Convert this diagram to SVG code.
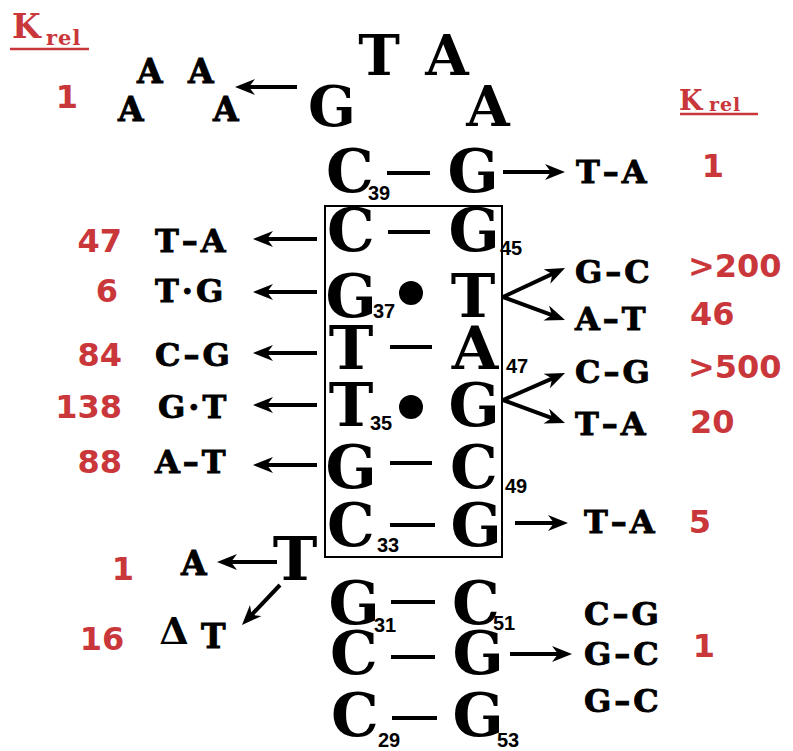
<svg xmlns="http://www.w3.org/2000/svg" width="793" height="751" viewBox="0 0 793 751">
  <style>
    .big { font-family: "DejaVu Serif", "Liberation Serif", serif; font-weight: bold; font-size: 60px; fill: #000; text-anchor: middle; }
    .loop { font-family: "DejaVu Serif", "Liberation Serif", serif; font-weight: bold; font-size: 56px; fill: #000; text-anchor: middle; }
    .sub { font-family: "Liberation Sans", Arial, sans-serif; font-weight: bold; font-size: 20px; fill: #000; }
    .pair { font-family: "DejaVu Serif", "Liberation Serif", serif; font-weight: bold; font-size: 32px; fill: #000; stroke: #000; stroke-width: 0.9px; letter-spacing: 3px; }
    .base { font-family: "DejaVu Serif", "Liberation Serif", serif; font-weight: bold; font-size: 33px; fill: #000; stroke: #000; stroke-width: 0.9px; }
    .kbig { font-family: "DejaVu Serif", serif; font-weight: bold; fill: #c9373b; }
    .ksub { font-family: "DejaVu Serif", serif; font-weight: bold; fill: #c9373b; letter-spacing: 1px; }
    .num { font-family: "DejaVu Sans", "Liberation Sans", sans-serif; font-weight: bold; font-size: 32px; fill: #c9373b; }
    .dash { stroke: #000; stroke-width: 4; }
    .arrow { stroke: #000; stroke-width: 4; fill: none; marker-end: url(#head); }
  </style>
  <defs>
    <marker id="head" markerUnits="userSpaceOnUse" viewBox="0 0 20 16" markerWidth="20" markerHeight="16" refX="12" refY="8" orient="auto">
      <path d="M0,0 L20,8 L0,16 L6,8 Z" fill="#000"/>
    </marker>
  </defs>
  <rect width="793" height="751" fill="#fff"/>

  <!-- K_rel headings -->
  <g id="krel-left">
    <text class="kbig" x="12" y="38" font-size="33">K</text>
    <text class="ksub" x="46" y="45" font-size="21">rel</text>
    <line x1="10" y1="49" x2="89" y2="49" stroke="#c9373b" stroke-width="2.5"/>
  </g>
  <g id="krel-right">
    <text class="kbig" x="679" y="110" font-size="27">K</text>
    <text class="ksub" x="709" y="111" font-size="19">rel</text>
    <line x1="680" y1="114" x2="758" y2="114" stroke="#c9373b" stroke-width="2.5"/>
  </g>

  <!-- hairpin loop G T A A -->
  <g id="loop">
    <text class="loop" x="332" y="126">G</text>
    <text class="loop" x="379" y="75">T</text>
    <text class="loop" x="447" y="75">A</text>
    <text class="loop" x="488" y="126">A</text>
  </g>
  <g id="loop-variant">
    <text class="base" x="118" y="121">A</text>
    <text class="base" x="137" y="83">A</text>
    <text class="base" x="188" y="83">A</text>
    <text class="base" x="213" y="121">A</text>
    <text class="num" x="67" y="108" font-size="36" text-anchor="middle">1</text>
  </g>

  <!-- stem base pairs -->
  <g id="pair-39">
    <text class="big" x="350" y="192">C</text>
    <text class="sub" x="368" y="200">39</text>
    <line class="dash" x1="387" y1="173" x2="430" y2="173"/>
    <text class="big" x="473" y="192">G</text>
  </g>
  <rect id="box" x="325" y="206" width="177" height="351" fill="none" stroke="#000" stroke-width="2"/>
  <g id="pair-38">
    <text class="big" x="351" y="251">C</text>
    <line class="dash" x1="388" y1="232" x2="430" y2="232"/>
    <text class="big" x="474" y="251">G</text>
    <text class="sub" x="500" y="255">45</text>
  </g>
  <g id="pair-37">
    <text class="big" x="351" y="317">G</text>
    <text class="sub" x="373" y="318">37</text>
    <circle cx="411" cy="293" r="12" fill="#000"/>
    <text class="big" x="473" y="317">T</text>
  </g>
  <g id="pair-36">
    <text class="big" x="351" y="369">T</text>
    <line class="dash" x1="390" y1="347" x2="432" y2="347"/>
    <text class="big" x="475" y="369">A</text>
    <text class="sub" x="506" y="373">47</text>
  </g>
  <g id="pair-35">
    <text class="big" x="351" y="426">T</text>
    <text class="sub" x="370" y="430">35</text>
    <circle cx="411" cy="407" r="12" fill="#000"/>
    <text class="big" x="474" y="426">G</text>
  </g>
  <g id="pair-34">
    <text class="big" x="351" y="488">G</text>
    <line class="dash" x1="390" y1="463" x2="432" y2="463"/>
    <text class="big" x="474" y="488">C</text>
    <text class="sub" x="505" y="493">49</text>
  </g>
  <g id="pair-33">
    <text class="big" x="351" y="546">C</text>
    <text class="sub" x="377" y="552">33</text>
    <line class="dash" x1="390" y1="525" x2="435" y2="525"/>
    <text class="big" x="476" y="546">G</text>
  </g>
  <g id="pair-31">
    <text class="big" x="354" y="624">G</text>
    <text class="sub" x="374" y="632">31</text>
    <line class="dash" x1="391" y1="602" x2="435" y2="602"/>
    <text class="big" x="476" y="624">C</text>
    <text class="sub" x="493" y="630">51</text>
  </g>
  <g id="pair-30">
    <text class="big" x="354" y="674">C</text>
    <line class="dash" x1="391" y1="657" x2="435" y2="657"/>
    <text class="big" x="478" y="674">G</text>
  </g>
  <g id="pair-29">
    <text class="big" x="355" y="736">C</text>
    <text class="sub" x="378" y="747">29</text>
    <line class="dash" x1="392" y1="718" x2="437" y2="718"/>
    <text class="big" x="478" y="736">G</text>
    <text class="sub" x="497" y="747">53</text>
  </g>

  <!-- bulged T and its variants -->
  <g id="bulge-t">
    <text class="big" x="295" y="580">T</text>
  </g>
  <g id="bulge-variants">
    <text class="base" x="181" y="575">A</text>
    <text class="num" x="123" y="580" font-size="36" text-anchor="middle">1</text>
    <text x="174" y="644" font-family="DejaVu Serif, serif" font-weight="bold" font-size="38" text-anchor="middle" fill="#000">Δ</text>
    <text class="base" x="201" y="648" font-size="31">T</text>
    <text class="num" x="102" y="650" font-size="36" text-anchor="middle">16</text>
  </g>

  <!-- substitutions on the left strand -->
  <g id="left-variants">
    <text class="pair" x="155" y="252">T–A</text>
    <text class="num" x="122" y="252" text-anchor="end">47</text>
    <text class="pair" x="155" y="302">T·G</text>
    <text class="num" x="118" y="302" text-anchor="end">6</text>
    <text class="pair" x="155" y="366">C–G</text>
    <text class="num" x="122" y="366" text-anchor="end">84</text>
    <text class="pair" x="158" y="418">G·T</text>
    <text class="num" x="122" y="418" text-anchor="end">138</text>
    <text class="pair" x="155" y="473">A–T</text>
    <text class="num" x="122" y="473" text-anchor="end">88</text>
  </g>

  <!-- substitutions on the right strand -->
  <g id="right-variants">
    <text class="pair" x="576" y="183">T–A</text>
    <text class="num" x="713" y="177" font-size="29" text-anchor="middle">1</text>
    <text class="pair" x="575" y="283">G–C</text>
    <text class="num" x="688" y="277" font-size="31">&gt;200</text>
    <text class="pair" x="575" y="330">A–T</text>
    <text class="num" x="690" y="325" font-size="31">46</text>
    <text class="pair" x="575" y="383">C–G</text>
    <text class="num" x="688" y="378" font-size="31">&gt;500</text>
    <text class="pair" x="575" y="435">T–A</text>
    <text class="num" x="690" y="433" font-size="31">20</text>
    <text class="pair" x="584" y="533">T–A</text>
    <text class="num" x="700" y="533" font-size="30" text-anchor="middle">5</text>
    <text class="pair" x="584" y="625">C–G</text>
    <text class="pair" x="584" y="665">G–C</text>
    <text class="pair" x="584" y="712">G–C</text>
    <text class="num" x="704" y="657" font-size="33" text-anchor="middle">1</text>
  </g>

  <!-- connectors -->
  <g id="connectors">
    <line class="arrow" x1="297" y1="87" x2="243" y2="87"/>
    <line class="arrow" x1="503" y1="172" x2="557" y2="172"/>
    <line class="arrow" x1="317" y1="239" x2="261" y2="239"/>
    <line class="arrow" x1="317" y1="292" x2="261" y2="292"/>
    <line class="arrow" x1="317" y1="353" x2="261" y2="353"/>
    <line class="arrow" x1="317" y1="405" x2="261" y2="405"/>
    <line class="arrow" x1="317" y1="465" x2="261" y2="465"/>
    <line class="arrow" x1="503" y1="297" x2="557.8" y2="271.4"/>
    <line class="arrow" x1="503" y1="297" x2="557.5" y2="317.2"/>
    <line class="arrow" x1="503" y1="400" x2="557.7" y2="376.2"/>
    <line class="arrow" x1="503" y1="400" x2="557.5" y2="420.2"/>
    <line class="arrow" x1="515" y1="523" x2="560" y2="523"/>
    <line class="arrow" x1="510" y1="654" x2="564" y2="654"/>
    <line class="arrow" x1="277" y1="562" x2="225" y2="562"/>
    <line class="arrow" x1="280" y1="585" x2="247.5" y2="619.2"/>
  </g>
</svg>
